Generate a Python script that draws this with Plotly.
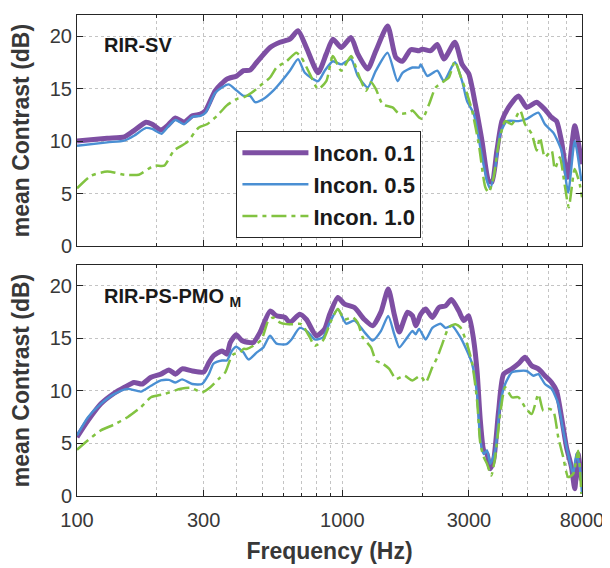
import math
import plotly.graph_objects as go

# ---------------- data ----------------
# Top panel: RIR-SV
sv_f_01 = [100, 130, 151, 164, 182, 192, 207, 219, 235, 253, 272, 292, 305, 332, 367, 400, 424, 449,
           476, 534, 582, 634, 681, 732, 810, 870, 921, 990, 1079, 1143, 1246, 1338, 1481, 1591, 1685,
           1810, 1946, 2002, 2151, 2279, 2414, 2655, 2827, 2995, 3171, 3360, 3560, 3664, 3823, 3992,
           4229, 4610, 4952, 5398, 5799, 6144, 6414, 6697, 7052, 7512, 7842, 8000]
sv_v_01 = [10.0, 10.26, 10.4, 11.0, 11.8, 11.6, 11.05, 11.46, 12.2, 11.8, 12.4, 12.57, 12.9, 14.8, 15.9,
           16.2, 16.7, 16.75, 17.5, 18.9, 19.4, 19.7, 20.5, 18.9, 16.5, 18.3, 19.7, 18.9, 19.85, 18.3,
           16.85, 18.6, 20.96, 17.95, 17.6, 18.7, 18.6, 18.75, 18.6, 19.2, 17.8, 19.4, 17.3, 16.4, 13.5,
           10.0, 6.2, 6.1, 9.1, 11.9, 13.2, 14.3, 13.2, 13.7, 13.0, 12.25, 11.9, 10.0, 6.55, 11.46, 9.1, 7.8]

sv_f_05 = [100, 130, 151, 164, 182, 192, 208, 222, 235, 253, 272, 292, 305, 332, 372, 400, 424, 449,
           469, 504, 549, 590, 634, 681, 722, 810, 858, 921, 990, 1079, 1143, 1246, 1338, 1481, 1614,
           1685, 1837, 1946, 1973, 2090, 2279, 2414, 2655, 2827, 2951, 3127, 3311, 3508, 3610, 3767,
           3934, 4168, 4610, 4952, 5478, 5799, 6235, 6697, 7094, 7512, 7956]
sv_v_05 = [9.56, 9.88, 10.04, 10.5, 11.25, 11.15, 10.7, 11.46, 12.0, 11.6, 12.3, 12.4, 12.7, 14.6, 15.4,
           14.8, 14.3, 14.3, 13.7, 14.0, 14.8, 15.7, 16.7, 17.8, 16.5, 15.7, 16.7, 17.6, 17.3, 17.8, 16.2,
           15.1, 16.7, 18.4, 15.7, 16.5, 17.0, 17.0, 17.3, 16.2, 16.7, 15.7, 17.5, 15.7, 13.8, 12.6, 9.4,
           6.2, 5.45, 7.5, 10.7, 11.9, 11.9, 12.1, 12.7, 11.6, 10.8, 9.1, 5.1, 10.0, 6.2]

sv_f_10 = [100, 113, 130, 151, 171, 195, 213, 232, 260, 288, 309, 337, 367, 400, 424, 455, 490, 534,
           565, 616, 671, 701, 754, 810, 870, 921, 990, 1079, 1143, 1228, 1282, 1338, 1418, 1546, 1638,
           1785, 1837, 1946, 2002, 2122, 2246, 2414, 2520, 2655, 2786, 2951, 3082, 3266, 3457, 3560,
           3716, 3880, 4107, 4352, 4674, 4880, 5170, 5398, 5554, 5799, 6144, 6320, 6600, 6891, 7132,
           7512, 7842, 8000]
sv_v_10 = [5.5, 6.7, 7.1, 6.8, 6.8, 7.66, 7.66, 9.1, 9.9, 11.3, 11.6, 12.4, 13.4, 14.0, 14.15, 14.6,
           15.26, 16.05, 17.0, 17.6, 18.4, 17.95, 16.4, 14.95, 15.7, 18.1, 16.7, 18.1, 16.5, 14.8, 15.6,
           14.95, 13.5, 13.2, 12.6, 12.7, 12.9, 12.25, 12.1, 13.5, 15.1, 15.7, 16.05, 17.6, 16.2, 14.5,
           12.9, 9.7, 5.6, 5.1, 6.55, 9.7, 11.9, 11.6, 12.9, 11.6, 10.7, 9.1, 10.35, 8.45, 9.1, 7.35,
           8.45, 5.76, 3.7, 7.35, 5.9, 4.65]

# Bottom panel: RIR-PS-PMO_M
ps_f_01 = [100, 110, 123, 138, 151, 164, 176, 190, 207, 222, 235, 249, 272, 300, 314, 327, 352, 367,
           378, 398, 418, 449, 462, 490, 534, 565, 608, 634, 691, 732, 798, 858, 896, 962, 1019, 1111,
           1211, 1301, 1397, 1489, 1569, 1638, 1759, 1837, 1890, 1918, 1973, 2060, 2183, 2312, 2448,
           2577, 2748, 2869, 2995, 3127, 3218, 3311, 3410, 3508, 3610, 3716, 3880, 4051, 4352, 4610,
           4880, 5170, 5478, 5799, 6144, 6414, 6697, 6992, 7300, 7512, 7734, 7956]
ps_v_01 = [5.6, 7.18, 8.77, 9.78, 10.35, 10.8, 10.66, 11.3, 11.6, 12.0, 11.6, 12.1, 11.9, 11.8, 12.7,
           13.35, 13.8, 13.5, 14.6, 15.35, 14.8, 14.6, 14.6, 15.6, 17.6, 17.15, 17.0, 16.5, 17.3, 16.8,
           15.25, 15.9, 17.3, 18.9, 18.26, 17.94, 16.8, 16.2, 17.5, 19.7, 17.3, 15.6, 17.5, 17.15, 16.2,
           16.5, 17.3, 17.8, 17.0, 17.95, 18.1, 18.7, 17.6, 16.7, 17.15, 14.8, 11.9, 7.18, 4.34, 4.0,
           2.6, 3.4, 8.1, 11.6, 12.1, 12.6, 13.2, 12.4, 12.1, 11.45, 10.8, 10.0, 7.5, 4.65, 2.75, 0.7,
           4.0, 1.5]

ps_f_05 = [100, 110, 123, 138, 155, 174, 190, 207, 222, 235, 249, 272, 296, 314, 327, 352, 367, 383,
           398, 418, 424, 443, 476, 504, 534, 565, 616, 643, 691, 743, 787, 845, 896, 962, 1033, 1111,
           1211, 1301, 1397, 1489, 1569, 1638, 1734, 1837, 1890, 1946, 2060, 2183, 2344, 2448, 2593,
           2786, 2951, 3082, 3218, 3311, 3410, 3508, 3610, 3767, 3934, 4107, 4352, 4610, 4952, 5247,
           5478, 5799, 6144, 6509, 6796, 7094, 7408, 7621, 7842, 8000]
ps_v_05 = [5.76, 7.5, 8.77, 9.7, 10.2, 9.94, 10.5, 11.0, 11.05, 10.8, 11.1, 10.66, 10.66, 11.6, 12.6,
           12.9, 12.9, 13.8, 14.2, 13.8, 13.67, 13.0, 13.67, 14.15, 15.25, 14.5, 14.46, 14.9, 16.0, 15.6,
           14.9, 15.1, 16.5, 17.8, 16.4, 16.7, 15.6, 14.8, 15.7, 17.15, 15.4, 14.15, 14.9, 15.7, 15.4,
           15.9, 14.9, 16.0, 16.4, 16.0, 16.2, 15.1, 13.8, 12.6, 9.7, 5.3, 4.0, 4.34, 3.07, 4.34, 8.77,
           10.66, 11.77, 11.9, 11.9, 11.45, 11.6, 10.66, 10.2, 8.77, 6.23, 4.0, 2.1, 4.0, 2.75, 0.2]

ps_f_10 = [100, 110, 123, 138, 155, 174, 190, 213, 246, 268, 296, 318, 342, 362, 378, 389, 412, 424,
           436, 462, 496, 526, 549, 582, 616, 653, 701, 754, 787, 845, 908, 962, 1019, 1095, 1143, 1194,
           1282, 1338, 1418, 1502, 1591, 1710, 1837, 1918, 1973, 2060, 2183, 2279, 2379, 2520, 2668,
           2786, 2951, 3082, 3218, 3311, 3410, 3508, 3641, 3767, 3934, 4107, 4352, 4610, 4880, 5170,
           5478, 5719, 5971, 6235, 6509, 6796, 7094, 7408, 7734, 7956]
ps_v_10 = [4.4, 5.3, 6.25, 6.8, 7.5, 8.45, 9.4, 9.7, 10.2, 10.3, 9.87, 10.35, 11.14, 11.77, 13.0, 13.5,
           13.67, 14.0, 14.0, 14.3, 14.9, 16.7, 17.0, 16.5, 16.36, 16.36, 16.36, 15.1, 14.3, 14.8, 16.7,
           17.8, 16.8, 17.0, 16.5, 15.1, 14.15, 12.9, 12.6, 12.1, 11.14, 11.45, 11.0, 11.3, 11.45, 10.8,
           12.25, 13.2, 14.46, 16.05, 16.36, 16.05, 14.46, 12.7, 9.1, 5.0, 3.7, 3.07, 1.96, 3.7, 7.8,
           10.35, 9.4, 9.4, 8.45, 7.8, 9.7, 8.1, 8.3, 8.1, 5.6, 3.7, 1.8, 2.1, 4.3, 0.2]

series_names = ["Incon. 0.1", "Incon. 0.5", "Incon. 1.0"]
x_tick_vals = [100, 300, 1000, 3000, 8000]
x_tick_text = ["100", "300", "1000", "3000", "8000"]
x_minor_vals = [200, 400, 500, 600, 700, 800, 900, 2000, 4000, 5000, 6000, 7000]
y_tick_vals = [0, 5, 10, 15, 20]

# ---------------- styling ----------------
FONT = "Liberation Sans, Arial, Helvetica, sans-serif"
PURPLE = "#7E4FA3"
BLUE = "#4A8FD3"
GREEN = "#82C341"
AX = "#262626"
GRID = "#c4c4c4"

styles = [
    dict(color=PURPLE, width=5, shape="spline", smoothing=0.6),
    dict(color=BLUE, width=2.4, shape="spline", smoothing=0.6),
    dict(color=GREEN, width=2.5, dash="15px,5px,4px,5px", shape="spline", smoothing=0.6),
]

fig = go.Figure()

top = [(sv_f_01, sv_v_01), (sv_f_05, sv_v_05), (sv_f_10, sv_v_10)]
bot = [(ps_f_01, ps_v_01), (ps_f_05, ps_v_05), (ps_f_10, ps_v_10)]

for i, (f, v) in enumerate(top):
    fig.add_trace(go.Scatter(x=f, y=v, mode="lines", name=series_names[i],
                             line=styles[i], xaxis="x2", yaxis="y2",
                             legendgroup=series_names[i], showlegend=True))
for i, (f, v) in enumerate(bot):
    fig.add_trace(go.Scatter(x=f, y=v, mode="lines", name=series_names[i],
                             line=styles[i], xaxis="x", yaxis="y",
                             legendgroup=series_names[i], showlegend=False))

xcommon = dict(
    type="log", range=[2, math.log10(8000)],
    tickmode="array", tickvals=x_tick_vals, ticktext=x_tick_text,
    ticks="inside", ticklen=6, tickcolor=AX, tickwidth=1,
    showline=True, linecolor=AX, linewidth=1, mirror="allticks",
    showgrid=True, gridcolor=GRID, griddash="dot", gridwidth=1,
    minor=dict(tickmode="array", tickvals=x_minor_vals, ticks="inside", ticklen=3,
               tickcolor=AX, showgrid=True, gridcolor=GRID, griddash="dot", gridwidth=1),
    tickfont=dict(family=FONT, size=20, color="#383838"),
    zeroline=False,
)
ycommon = dict(
    range=[0, 22], tickmode="array", tickvals=y_tick_vals,
    ticks="inside", ticklen=6, tickcolor=AX, tickwidth=1,
    showline=True, linecolor=AX, linewidth=1, mirror="allticks",
    showgrid=True, gridcolor=GRID, griddash="dot", gridwidth=1,
    tickfont=dict(family=FONT, size=20, color="#383838"),
    zeroline=False,
    title=dict(text="<b>mean Contrast (dB)</b>", font=dict(family=FONT, size=23, color="#383838"),
               standoff=15),
)

# the page body adds an 8px offset, so the figure is sized 8px smaller
fig.update_layout(
    width=602, height=560,
    margin=dict(l=69, r=24, t=6, b=72),
    paper_bgcolor="white", plot_bgcolor="white",
    font=dict(family=FONT, color="#262626"),
    xaxis=dict(**xcommon, anchor="y", domain=[0, 1], ticklabelstandoff=6,
               title=dict(text="<b>Frequency (Hz)</b>",
                          font=dict(family=FONT, size=23, color="#383838"), standoff=12)),
    xaxis2=dict(**xcommon, anchor="y2", domain=[0, 1], matches="x", showticklabels=False),
    yaxis=dict(**ycommon, anchor="x", domain=[0, 0.4805]),
    yaxis2=dict(**ycommon, anchor="x2", domain=[0.5195, 1]),
    showlegend=True,
    legend=dict(x=0.3157, y=0.759, xanchor="left", yanchor="top",
                bgcolor="white", bordercolor=AX, borderwidth=1,
                font=dict(family=FONT, size=22, color="#1a1a1a", weight="bold"),
                tracegroupgap=0, itemwidth=66),
    annotations=[
        dict(text="<b>RIR-SV</b>", xref="paper", yref="paper", x=0.05, y=0.9377,
             xanchor="left", yanchor="middle", showarrow=False,
             font=dict(family=FONT, size=20, color="#1a1a1a")),
        dict(text="<b>RIR-PS-PMO <sub>M</sub></b>", xref="paper", yref="paper", x=0.05, y=0.4125,
             xanchor="left", yanchor="middle", showarrow=False,
             font=dict(family=FONT, size=20, color="#1a1a1a")),
    ],
)

fig.write_html("out.html")
